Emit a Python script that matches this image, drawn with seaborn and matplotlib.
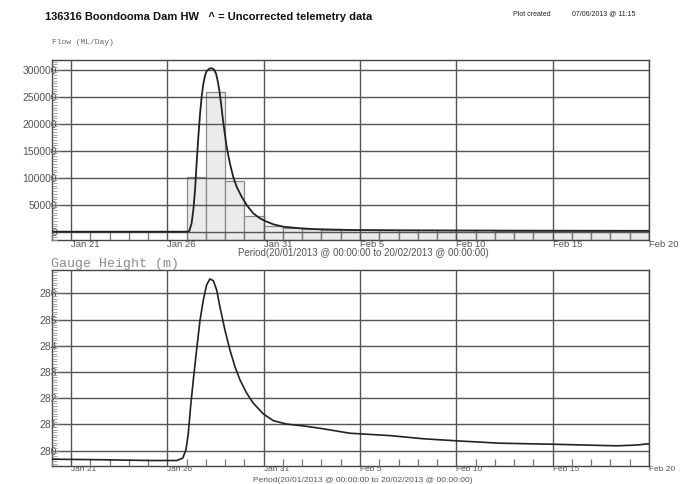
import numpy as np
import pandas as pd
import matplotlib
matplotlib.use("Agg")
import matplotlib.pyplot as plt
from matplotlib.ticker import MultipleLocator
import seaborn as sns

# ---------------- data ----------------
# time in days since 20/01/2013 00:00
flow_days = [0.0, 3.0, 6.0, 7.0, 7.14, 7.26, 7.35, 7.44, 7.52, 7.61, 7.70, 7.78, 7.87, 7.96,
             8.04, 8.18, 8.30, 8.42, 8.53, 8.61, 8.70, 8.79, 8.87, 8.96, 9.08, 9.25,
             9.42, 9.60, 9.86, 10.12, 10.46, 10.81, 11.16, 11.50, 12.02, 12.88, 13.75,
             15.48, 18.0, 21.0, 25.0, 28.0, 31.0]
flow_values = [0, 0, 0, 0, 1000, 15500, 40100, 77000, 126300, 175500, 218700, 249300, 274100,
               289400, 297400, 301800, 302900, 300500, 292600, 280200, 261700, 237200,
               212400, 187800, 157000, 126300, 101600, 83100, 64600, 49300, 34000, 24700,
               18500, 13700, 9200, 6300, 4600, 3200, 2600, 2200, 1900, 1700, 1600]

bar_days = list(range(7, 31))
bar_values = [102000, 259000, 94000, 29000, 11000, 6000, 5000, 4000, 3500, 3000, 2800,
              2600, 2500, 2400, 2300, 2200, 2100, 2000, 2000, 1900, 1900, 1800, 1800, 1700]

gh_days = [0.0, 2.5, 5.1, 6.49, 6.80, 6.97, 7.09, 7.21, 7.35, 7.52, 7.70, 7.87, 8.04, 8.21,
           8.39, 8.56, 8.73, 8.99, 9.25, 9.51, 9.77, 10.12, 10.46, 10.98, 11.50, 12.19,
           13.06, 13.92, 15.48, 17.56, 19.28, 21.02, 23.26, 26.03, 29.32, 30.36, 31.0]
gh_values = [279.67, 279.65, 279.62, 279.62, 279.71, 280.03, 280.66, 281.68, 282.70, 283.84,
             284.98, 285.75, 286.32, 286.55, 286.48, 286.13, 285.49, 284.60, 283.84, 283.20,
             282.70, 282.19, 281.81, 281.40, 281.14, 281.01, 280.94, 280.85, 280.66, 280.57,
             280.45, 280.37, 280.28, 280.24, 280.18, 280.21, 280.26]

xtick_days = [1, 6, 11, 16, 21, 26, 31]
xtick_labels = ["Jan 21", "Jan 26", "Jan 31", "Feb 5", "Feb 10", "Feb 15", "Feb 20"]
flow_yticks = [0, 50000, 100000, 150000, 200000, 250000, 300000]
gh_yticks = [280, 281, 282, 283, 284, 285, 286]

title = "136316 Boondooma Dam HW   ^ = Uncorrected telemetry data"
period = "Period(20/01/2013 @ 00:00:00 to 20/02/2013 @ 00:00:00)"

flow_df = pd.DataFrame({"day": flow_days, "flow": flow_values})
gh_df = pd.DataFrame({"day": gh_days, "gh": gh_values})

# ---------------- style ----------------
sns.set_style("white")
plt.rcParams["font.family"] = ["Liberation Sans", "DejaVu Sans"]

W, H = 697, 484
fig = plt.figure(figsize=(W / 100, H / 100), dpi=100)

def fx(px):
    return px / W

def fy(py):
    return 1 - py / H

grid_c = "#555555"
text_c = "#555555"
line_c = "#222222"

left, right = 51.7, 649.0
ax1 = fig.add_axes([fx(left), fy(240), fx(right - left), fy(60) - fy(240)])
ax2 = fig.add_axes([fx(left), fy(466), fx(right - left), fy(270) - fy(466)])

flow_ylim = (-15400, 318000)
gh_ylim = (279.41, 286.89)

# bars (daily volumes)
ax1.bar(bar_days, [v - flow_ylim[0] for v in bar_values], bottom=flow_ylim[0], width=1.0,
        align="edge", color="#ebebeb", edgecolor="#8a8a8a", linewidth=0.9, zorder=1)
sns.lineplot(data=flow_df, x="day", y="flow", ax=ax1, color=line_c, linewidth=1.3, zorder=4)
sns.lineplot(data=gh_df, x="day", y="gh", ax=ax2, color=line_c, linewidth=1.2, zorder=4)

for ax, ylim, yt, yminor, mlen, xls in [(ax1, flow_ylim, flow_yticks, 5000, 8.3, 6.8),
                                       (ax2, gh_ylim, gh_yticks, 0.1, 7, 6.0)]:
    ax.set_xlim(0, 31)
    ax.set_ylim(*ylim)
    ax.set_xlabel("")
    ax.set_ylabel("")
    ax.set_xticks(xtick_days)
    ax.set_xticklabels(xtick_labels)
    ax.xaxis.set_minor_locator(MultipleLocator(1))
    ax.set_yticks(yt)
    ax.set_yticklabels([str(v) for v in yt])
    ax.yaxis.set_minor_locator(MultipleLocator(yminor))
    ax.grid(True, which="major", color=grid_c, linewidth=1.0, zorder=2)
    ax.set_axisbelow(False)
    for sp in ax.spines.values():
        sp.set_color("#444444")
        sp.set_linewidth(1.0)
    ax.tick_params(axis="x", which="major", direction="in", length=0, pad=0.3,
                   labelsize=xls, labelcolor=text_c)
    ax.tick_params(axis="x", which="minor", direction="in", length=mlen * 0.72,
                   width=0.9, color="#777777", bottom=True)
    ax.tick_params(axis="y", which="major", direction="in", length=6, width=0.8,
                   color="#777777", pad=-4, labelsize=7.5, labelcolor=text_c, left=True)
    ax.tick_params(axis="y", which="minor", direction="in", length=3.6, width=0.6,
                   color="#999999", left=True)
    for lab in ax.get_xticklabels():
        lab.set_horizontalalignment("left")
    for lab in ax.get_yticklabels():
        lab.set_zorder(5)

# texts
fig.text(fx(45), fy(17), title, fontsize=8, fontweight="bold", color="#111111",
         ha="left", va="center")
fig.text(fx(513), fy(14), "Plot created", fontsize=5, color="#222222", ha="left", va="center")
fig.text(fx(572), fy(14), "07/06/2013 @ 11:15", fontsize=5, color="#222222", ha="left",
         va="center")
fig.text(fx(52), fy(42), "Flow (ML/Day)", fontsize=5.8, color="#666666",
         family=["Liberation Mono", "DejaVu Sans Mono"], ha="left", va="center")
fig.text(fx(51), fy(264), "Gauge Height (m)", fontsize=9.5, color="#8a8a8a",
         family=["Liberation Mono", "DejaVu Sans Mono"], ha="left", va="center")
fig.text(fx(363), fy(253.5), period, fontsize=7, color=text_c, ha="center", va="center")
fig.text(fx(363), fy(483.8), period, fontsize=6.0, color=text_c, ha="center", va="bottom")

fig.savefig("out.png", dpi=100, facecolor="white")
